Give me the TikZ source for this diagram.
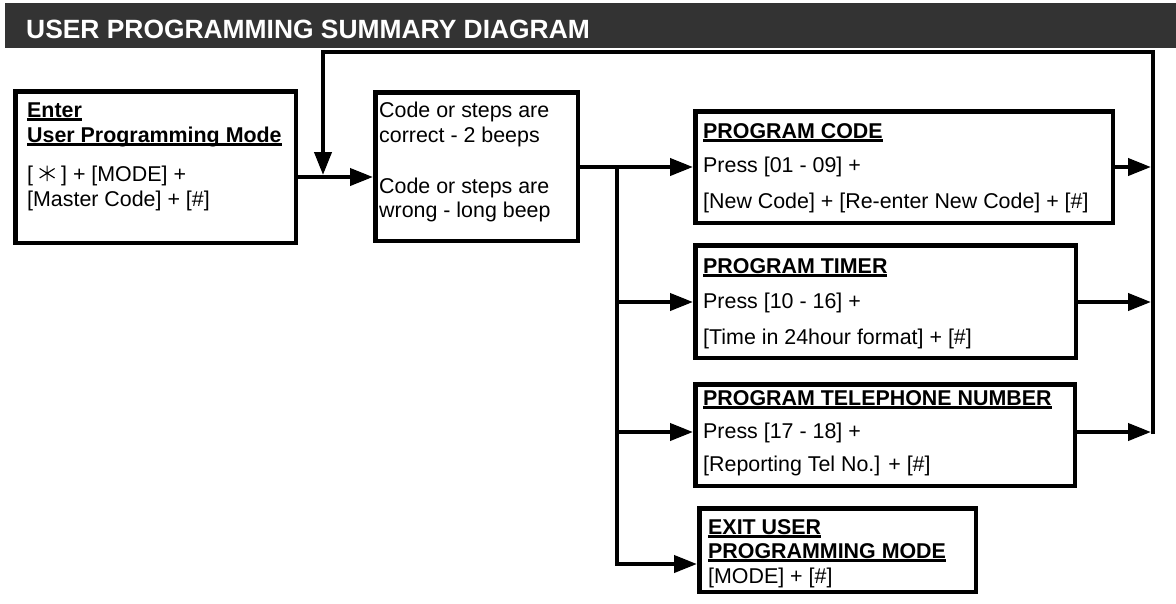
\documentclass[tikz,border=0pt]{standalone}
\usepackage{fontspec}
\setmainfont{Liberation Sans}
\usetikzlibrary{arrows.meta}
\definecolor{titlegray}{HTML}{333333}
\newcommand\myul[1]{\setbox0\hbox{#1}\rlap{\rule[-3.6pt]{\wd0}{2.2pt}}\box0}
\newcommand\keystar{\tikz[baseline=0pt]{\draw[line width=1.1pt] (0pt,0pt)--(0pt,15.5pt) (-7.5pt,3pt)--(7.5pt,12.5pt) (-7.5pt,12.5pt)--(7.5pt,3pt);}}
\begin{document}
\begin{tikzpicture}[x=1pt,y=-1pt,
  box/.style={draw, line width=4.5pt, inner sep=0pt, anchor=north west},
  conn/.style={line width=4pt},
  arr/.style={conn, -{Triangle[length=23pt,width=17pt]}},
  txt/.style={inner sep=0pt, anchor=base west, font=\fontsize{21.4}{25}\selectfont},
  btxt/.style={inner sep=0pt, anchor=base west, font=\fontsize{21.4}{25}\selectfont\bfseries},
  ttl/.style={inner sep=0pt, anchor=base west, text=white, font=\fontsize{26.4}{30}\selectfont\bfseries}]
\useasboundingbox (0,0) rectangle (1176,603);
% title bar
\fill[titlegray] (5,3) rectangle (1176,48);
\node[ttl] (title) at (26,38) {USER PROGRAMMING SUMMARY DIAGRAM};
% boxes
\node[box, minimum width=280.5pt, minimum height=151.5pt] (b1) at (13,89) {};
\node[box, minimum width=202.5pt, minimum height=148.5pt] (b2) at (373,90) {};
\node[box, minimum width=417.5pt, minimum height=111.5pt] (b3) at (693,109) {};
\node[box, minimum width=380.5pt, minimum height=112.5pt] (b4) at (693,243) {};
\node[box, minimum width=379.5pt, minimum height=101.5pt] (b5) at (693,382) {};
\node[box, minimum width=276.5pt, minimum height=83.5pt] (b6) at (697,506) {};
% texts box 1
\node[btxt] (b1a) at (27,117) {\myul{Enter}};
\node[btxt] (b1b) at (27,142) {\myul{User Programming Mode}};
\node[txt] (b1c) at (27,181) {[\;\keystar\;] + [MODE] +};
\node[txt] (b1d) at (27,206) {[Master Code] + [\#]};
% box 2
\node[txt] (b2a) at (379,117) {Code or steps are};
\node[txt] (b2b) at (379,142) {correct - 2 beeps};
\node[txt] (b2c) at (379,193) {Code or steps are};
\node[txt] (b2d) at (379,217) {wrong - long beep};
% box 3
\node[btxt] (b3a) at (703,138) {\myul{PROGRAM CODE}};
\node[txt] (b3b) at (703,172) {Press [01 - 09] +};
\node[txt] (b3c) at (703,208) {[New Code] + [Re-enter New Code] + [\#]};
% box 4
\node[btxt] (b4a) at (703,273) {\myul{PROGRAM TIMER}};
\node[txt] (b4b) at (703,308) {Press [10 - 16] +};
\node[txt] (b4c) at (703,344) {[Time in 24hour format] + [\#]};
% box 5
\node[btxt] (b5a) at (703,405) {\myul{PROGRAM TELEPHONE NUMBER}};
\node[txt] (b5b) at (703,438) {Press [17 - 18] +};
\node[txt] (b5c) at (703,471) {[Reporting Tel No.] + [\#]};
% box 6
\node[btxt] (b6a) at (708,534) {\myul{EXIT USER}};
\node[btxt] (b6b) at (708,558) {\myul{PROGRAMMING MODE}};
\node[txt] (b6c) at (708,583) {[MODE] + [\#]};
% coordinates
\coordinate (j1) at (323,177);
\coordinate (jt) at (323,175);
\coordinate (t0) at (617,167);
\coordinate (t1) at (617,302);
\coordinate (t2) at (617,432);
\coordinate (t3) at (617,564);
\coordinate (r3) at (1151,167);
\coordinate (r4) at (1151,302);
\coordinate (r5) at (1151,432);
\coordinate (rb) at (1153,434);
\coordinate (rt) at (1153,52);
\coordinate (lt) at (323,52);
% connectors
\draw[arr] (b1.east |- j1) -- (b2.west |- j1);
\draw[conn] (b2.east |- t0) -- (t0);
\draw[arr] (t0) -- (b3.west |- t0);
\draw[arr] (t0) -- (t3) -- (b6.west |- t3);
\draw[arr] (t1) -- (b4.west |- t1);
\draw[arr] (t2) -- (b5.west |- t2);
\draw[arr] (b3.east |- r3) -- (r3);
\draw[arr] (b4.east |- r4) -- (r4);
\draw[arr] (b5.east |- r5) -- (r5);
\draw[arr] (rb) -- (rt) -- (lt) -- (jt);
\end{tikzpicture}
\end{document}
